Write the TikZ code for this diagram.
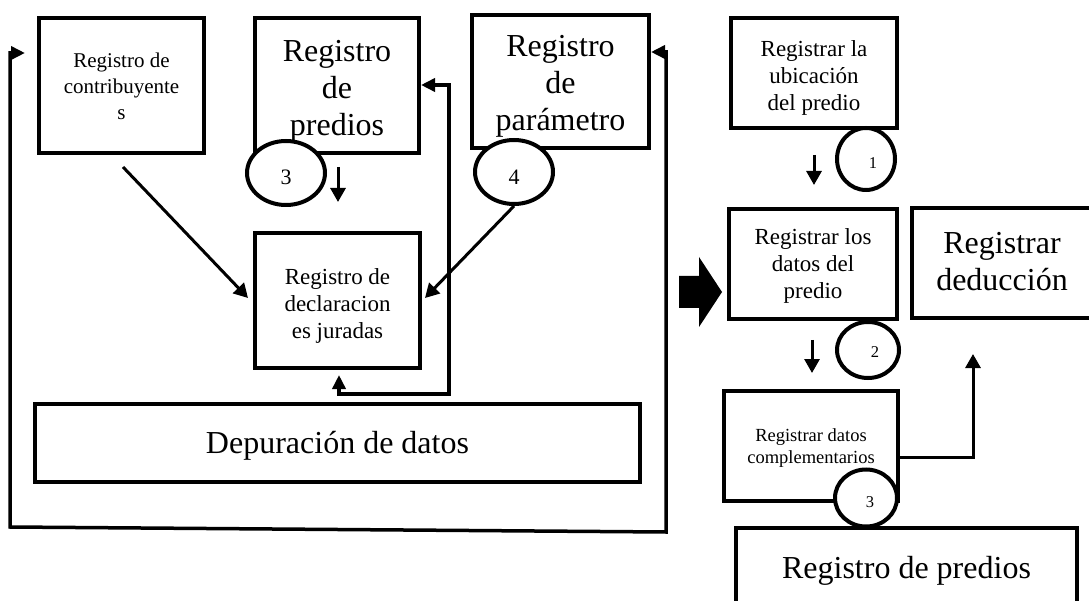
\documentclass[tikz,border=0pt]{standalone}
\usepackage{fontspec}
\setmainfont{Liberation Serif}
\usetikzlibrary{arrows.meta,shapes.geometric}
\newcommand\fsm{\fontsize{21}{26}\selectfont}
\newcommand\fmd{\fontsize{23}{27}\selectfont}
\newcommand\fbg{\fontsize{32}{37}\selectfont}
\newcommand\fcp{\fontsize{18.5}{22}\selectfont}
\newcommand\fnb{\fontsize{22}{24}\selectfont}
\newcommand\fns{\fontsize{16.5}{18}\selectfont}
\begin{document}
\begin{tikzpicture}[x=1pt,y=-1pt,
  box/.style={draw, line width=4pt, inner sep=0pt, fill=white},
  txt/.style={inner sep=0pt, align=center},
  circ/.style={draw, ellipse, line width=4pt, fill=white, inner sep=0pt},
  arr/.style={line width=3pt, -{Triangle[width=15pt,length=14pt]}},
  loop/.style={line width=3.5pt, {Triangle[width=13pt,length=14pt]}-{Triangle[width=13pt,length=14pt]}},
  num/.style={inner sep=0pt}]
\useasboundingbox (0,0) rectangle (1089,601);
% left group boxes
\node[box, minimum width=165, minimum height=135] (contrib) at (121.5,85.5) {};
\node[txt, font=\fsm] (contribT) at (121.5,86.5) {Registro de\\contribuyente\\s};
\node[box, minimum width=164, minimum height=135] (predios) at (337,85.5) {};
\node[txt, font=\fbg] (prediosT) at (337,91) {Registro\\de\\predios};
\node[box, minimum width=177, minimum height=133] (param) at (560.5,81.5) {};
\node[txt, font=\fbg] (paramT) at (560.5,86) {Registro\\de\\parámetro};
\node[box, minimum width=165, minimum height=135] (decl) at (337.5,300.5) {};
\node[txt, font=\fmd] (declT) at (337.5,305.5) {Registro de\\declaracion\\es juradas};
\node[box, minimum width=605, minimum height=78] (dep) at (337.5,443) {};
\node[txt, font=\fbg] (depT) at (337.5,446) {Depuración de datos};
% right group boxes
\node[box, minimum width=166, minimum height=110] (ubic) at (814,73) {};
\node[txt, font=\fmd] (ubicT) at (814,78) {Registrar la\\ubicación\\del predio};
\node[box, minimum width=168, minimum height=110] (datos) at (813,264) {};
\node[txt, font=\fmd] (datosT) at (813,265.5) {Registrar los\\datos del\\predio};
\node[box, minimum width=180, minimum height=110] (deduc) at (1002,263.5) {};
\node[txt, font=\fbg] (deducT) at (1002,262) {Registrar\\deducción};
\node[box, minimum width=174, minimum height=110] (comp) at (811,446) {};
\node[txt, font=\fcp] (compT) at (811,448) {Registrar datos\\complementarios};
\node[box, minimum width=341, minimum height=82] (regp) at (906.5,569) {};
\node[txt, font=\fbg] (regpT) at (906.5,571) {Registro de predios};
% circles
\node[circ, minimum width=78, minimum height=64] (cl3) at (286,173) {};
\node[num, font=\fnb] (cl3t) at (286,177) {3};
\node[circ, minimum width=78, minimum height=64] (c4) at (514,172) {};
\node[num, font=\fnb] (c4t) at (514,177) {4};
\node[circ, minimum width=58, minimum height=62] (cr1) at (866,159) {};
\node[num, font=\fns] (cr1t) at (873,163) {1};
\node[circ, minimum width=62, minimum height=56] (cr2) at (868,350) {};
\node[num, font=\fns] (cr2t) at (875,352) {2};
\node[circ, minimum width=62, minimum height=57] (cr3) at (866,498) {};
\node[num, font=\fns] (cr3t) at (870,502) {3};
% free ends
\coordinate (s1a) at (338,167); \coordinate (s1b) at (338,202);
\coordinate (s2a) at (814,155); \coordinate (s2b) at (814,185);
\coordinate (s3a) at (812,340); \coordinate (s3b) at (812,373);
\coordinate (ca) at (123,167); \coordinate (cb) at (248,298);
\coordinate (pb) at (425,298);
\coordinate (fa) at (339,375); \coordinate (fb) at (339,394); \coordinate (fc) at (449,394); \coordinate (fd) at (449,85);
\coordinate (oa) at (25,53); \coordinate (ob) at (10,53); \coordinate (oc) at (10,527); \coordinate (od) at (666,532); \coordinate (oe) at (666,52);
\coordinate (ra) at (973,457); \coordinate (rb) at (973,354);
% connectors
\draw[arr] (s1a) -- (s1b);
\draw[arr] (s2a) -- (s2b);
\draw[arr] (s3a) -- (s3b);
\draw[arr] (ca) -- (cb);
\draw[arr] (c4.south) -- (pb);
\draw[loop] (fa) -- (fb) -- (fc) -- (fd) -- (predios.east |- fd);
\draw[loop] (oa) -- (ob) -- (oc) -- (od) -- (oe) -- (param.east |- oe);
\draw[arr] (comp.east |- ra) -- (ra) -- (rb);
% block arrow
\fill (679,276) -- (699,276) -- (699,257) -- (722,292) -- (699,327) -- (699,308) -- (679,308) -- cycle;
\end{tikzpicture}
\end{document}
